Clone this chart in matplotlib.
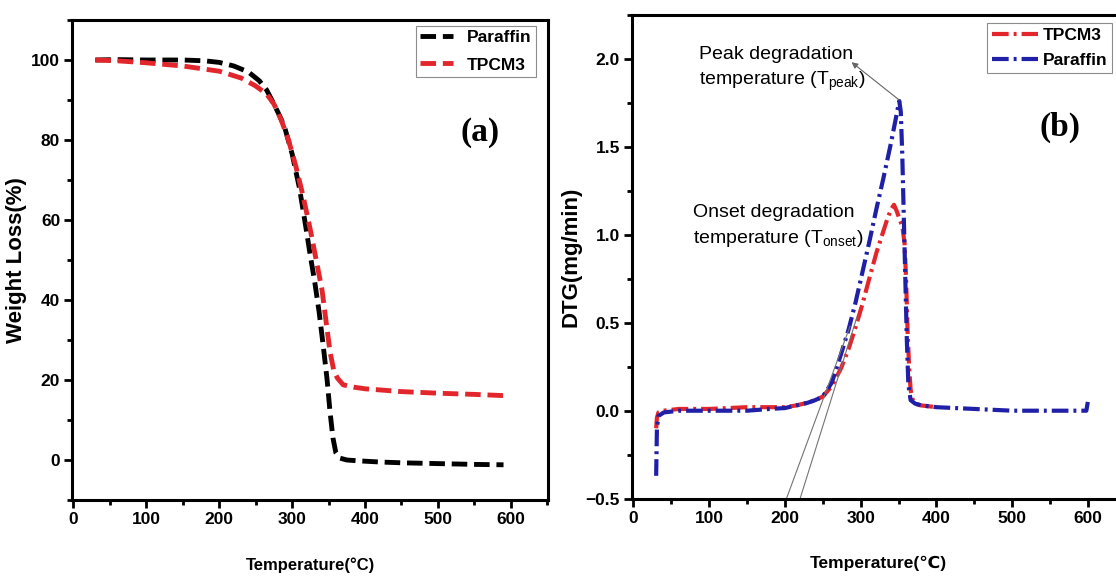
import matplotlib
matplotlib.use('Agg')
import matplotlib.pyplot as plt
from matplotlib.ticker import MultipleLocator

plt.rcParams['font.family'] = ['Liberation Sans', 'DejaVu Sans']
plt.rcParams['mathtext.fontset'] = 'custom'
plt.rcParams['mathtext.rm'] = 'Liberation Sans'
plt.rcParams['mathtext.it'] = 'Liberation Sans:italic'
plt.rcParams['mathtext.bf'] = 'Liberation Sans:bold'

# (a) TGA curves
tga_temp_paraffin = [30, 60, 100, 150, 180, 200, 220, 240, 255, 265, 275, 283, 290, 300, 310,
                     319, 325, 331, 337, 343, 348, 352, 356, 360, 365, 375, 390, 420, 450, 500, 550, 590]
tga_paraffin = [100, 100.1, 100, 100, 99.8, 99.4, 98.5, 97, 94.8, 92.5, 89, 86, 83, 76.5, 68,
                58, 51, 44.5, 37, 28, 20, 12, 5.5, 1.8, 0.5, 0, -0.2, -0.5, -0.7, -0.9, -1.1, -1.2]
tga_temp_tpcm3 = [30, 60, 100, 150, 200, 230, 250, 265, 275, 285, 295, 305, 315, 325, 333,
                  341, 347, 352, 357, 362, 370, 385, 400, 450, 500, 550, 590]
tga_tpcm3 = [100, 99.8, 99.3, 98.5, 97.2, 95.5, 93.5, 91.5, 89, 85, 80, 73.5, 66, 57.5, 50,
             42.5, 34, 27, 22.5, 20.5, 18.8, 18.2, 17.8, 17.1, 16.7, 16.4, 16.1]

# (b) DTG curves
dtg_temp_paraffin = [30, 31, 33, 40, 60, 100, 150, 180, 200, 215, 230, 240, 250, 262, 274, 284,
                     293, 302, 312, 321, 330, 340, 346, 351, 353, 355, 357, 359, 361, 363, 366,
                     372, 380, 400, 450, 500, 550, 598, 600]
dtg_paraffin = [-0.37, -0.1, -0.03, -0.01, 0.0, 0.0, 0.0, 0.01, 0.015, 0.03, 0.045, 0.06, 0.08,
                0.16, 0.32, 0.46, 0.61, 0.78, 0.97, 1.15, 1.32, 1.52, 1.65, 1.76, 1.70, 1.45,
                1.1, 0.75, 0.4, 0.15, 0.06, 0.04, 0.03, 0.02, 0.01, 0.0, 0.0, 0.0, 0.05]
dtg_temp_tpcm3 = [30, 31, 33, 40, 60, 100, 150, 180, 200, 215, 230, 240, 250, 262, 274, 284,
                  293, 302, 312, 321, 330, 336, 341, 344, 348, 352, 355, 358, 360, 362, 364,
                  366, 368, 372, 380, 400]
dtg_tpcm3 = [-0.1, -0.04, -0.01, 0.0, 0.01, 0.01, 0.02, 0.02, 0.02, 0.03, 0.045, 0.06, 0.08,
             0.14, 0.24, 0.35, 0.47, 0.6, 0.76, 0.9, 1.02, 1.1, 1.15, 1.17, 1.13, 1.08,
             1.05, 0.95, 0.75, 0.45, 0.25, 0.12, 0.07, 0.04, 0.03, 0.02]

onset_line_1 = ([202, 286], [-0.5, 0.48])
onset_line_2 = ([220, 295], [-0.5, 0.53])

red = '#e3262c'
blue = '#1f1fa8'

fig = plt.figure(figsize=(11.16, 5.79), dpi=100)
ax1 = fig.add_axes([72 / 1116, 79 / 579, 476 / 1116, 480 / 579])
ax2 = fig.add_axes([631.7 / 1116, 80.3 / 579, 494 / 1116, 484 / 579])

ax1.plot(tga_temp_paraffin, tga_paraffin, color='black', lw=3.5, dashes=(3.2, 1.4), label='Paraffin')
ax1.plot(tga_temp_tpcm3, tga_tpcm3, color=red, lw=3.5, dashes=(3.2, 1.4), label='TPCM3')
ax1.set_xlim(-2, 651)
ax1.set_ylim(-10, 110)
ax1.xaxis.set_major_locator(MultipleLocator(100))
ax1.xaxis.set_minor_locator(MultipleLocator(50))
ax1.yaxis.set_major_locator(MultipleLocator(20))
ax1.yaxis.set_minor_locator(MultipleLocator(10))
ax1.set_xlabel('Temperature(°C)', fontsize=12, fontweight='bold', labelpad=22)
ax1.set_ylabel('Weight Loss(%)', fontsize=16, fontweight='bold', labelpad=3)
ax1.text(558, 82, '(a)', fontsize=24, fontweight='bold', family='Liberation Serif',
         ha='center', va='center')
leg1 = ax1.legend(loc='upper right', bbox_to_anchor=(0.975, 0.988), borderaxespad=0,
                  prop={'weight': 'bold', 'size': 12.5}, handlelength=1.9,
                  fancybox=False, edgecolor='0.55', framealpha=1, borderpad=0.25,
                  labelspacing=0.7, handletextpad=0.8)
leg1.get_frame().set_linewidth(0.8)

ax2.plot(dtg_temp_tpcm3, dtg_tpcm3, color=red, lw=3, dashes=(4, 1.2, 0.7, 1.2), label='TPCM3')
ax2.plot(dtg_temp_paraffin, dtg_paraffin, color=blue, lw=3, dashes=(4, 1.2, 0.7, 1.2), label='Paraffin')
ax2.plot(*onset_line_1, color='0.45', lw=0.8)
ax2.plot(*onset_line_2, color='0.45', lw=0.8)
ax2.annotate('', xy=(288, 1.98), xytext=(351, 1.765),
             arrowprops=dict(arrowstyle='-|>', color='0.4', lw=0.8, mutation_scale=9,
                             shrinkA=0, shrinkB=0))
ax2.text(87, 1.94, 'Peak degradation\ntemperature (T$_{\\mathregular{peak}}$)', fontsize=14,
         va='center', ha='left', linespacing=1.45)
ax2.text(79, 1.045, 'Onset degradation\ntemperature (T$_{\\mathregular{onset}}$)', fontsize=14,
         va='center', ha='left', linespacing=1.45)
ax2.text(563, 1.607, '(b)', fontsize=24, fontweight='bold', family='Liberation Serif',
         ha='center', va='center')
ax2.set_xlim(-2.3, 650)
ax2.set_ylim(-0.5, 2.25)
ax2.xaxis.set_major_locator(MultipleLocator(100))
ax2.xaxis.set_minor_locator(MultipleLocator(50))
ax2.yaxis.set_major_locator(MultipleLocator(0.5))
ax2.yaxis.set_minor_locator(MultipleLocator(0.25))
ax2.set_xlabel('Temperature(℃)', fontsize=12.5, fontweight='bold', labelpad=22)
ax2.set_ylabel('DTG(mg/min)', fontsize=16, fontweight='bold', labelpad=3)
leg2 = ax2.legend(loc='upper left', bbox_to_anchor=(0.72, 0.982), borderaxespad=0,
                  prop={'weight': 'bold', 'size': 12.5}, handlelength=2.65,
                  fancybox=False, edgecolor='0.55', framealpha=1, borderpad=0.25,
                  labelspacing=0.6, handletextpad=0.3)
leg2.get_frame().set_linewidth(0.8)

for ax in (ax1, ax2):
    for side in ax.spines.values():
        side.set_linewidth(2.2)
    ax.tick_params(which='major', direction='out', length=6, width=2, labelsize=12.5,
                   pad=2.5, top=False, right=False)
    ax.tick_params(which='minor', direction='out', length=3.5, width=2, top=False, right=False)
    for lbl in ax.get_xticklabels() + ax.get_yticklabels():
        lbl.set_fontweight('bold')

fig.savefig('out.png', dpi=100)
